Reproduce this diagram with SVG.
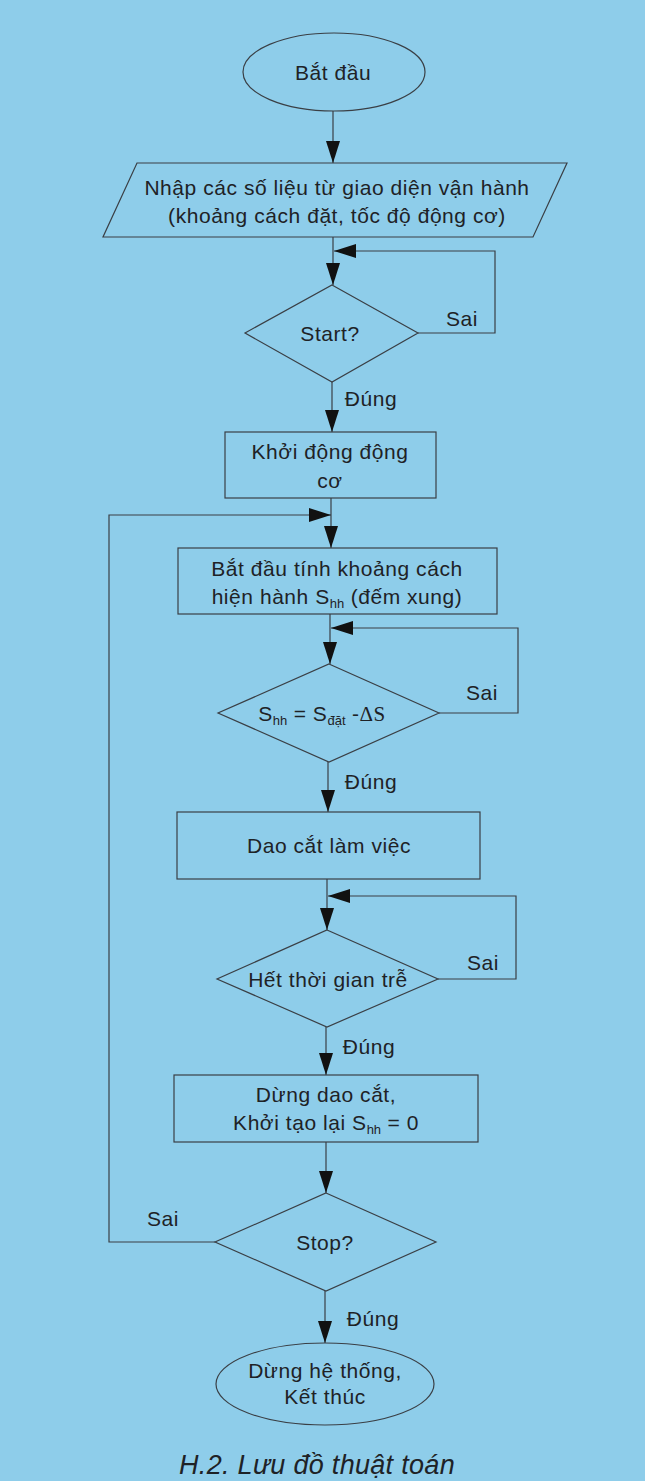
<svg xmlns="http://www.w3.org/2000/svg" width="645" height="1481" viewBox="0 0 645 1481">
<defs>
<marker id="ah" markerUnits="userSpaceOnUse" markerWidth="24" markerHeight="16" refX="22" refY="7" orient="auto">
<path d="M0,0 L22,7 L0,14 Z" fill="#111"/>
</marker>
<style>
.sh{fill:none;stroke:#3a3f45;stroke-width:1.2}
.c{fill:none;stroke:#3a3f45;stroke-width:1.2}
text{font-family:"Liberation Sans",Arial,sans-serif;font-size:21px;fill:#1e2226;letter-spacing:0.55px}
.m{text-anchor:middle}
.sub{font-size:13px;letter-spacing:0}
</style>
</defs>
<rect width="645" height="1481" fill="#8ecdea"/>

<g id="connectors">
<path class="c" d="M333,111 V163" marker-end="url(#ah)"/>
<path class="c" d="M333,237 V285" marker-end="url(#ah)"/>
<path class="c" d="M418,333 H495 V251 H334" marker-end="url(#ah)"/>
<path class="c" d="M332,382 V432" marker-end="url(#ah)"/>
<path class="c" d="M331,498 V548" marker-end="url(#ah)"/>
<path class="c" d="M215,1242 H109 V515 H331" marker-end="url(#ah)"/>
<path class="c" d="M330,614 V664" marker-end="url(#ah)"/>
<path class="c" d="M439,713 H518 V628 H331" marker-end="url(#ah)"/>
<path class="c" d="M328,762 V812" marker-end="url(#ah)"/>
<path class="c" d="M327,879 V930" marker-end="url(#ah)"/>
<path class="c" d="M438,979 H516 V896 H328" marker-end="url(#ah)"/>
<path class="c" d="M326,1027 V1075" marker-end="url(#ah)"/>
<path class="c" d="M326,1142 V1193" marker-end="url(#ah)"/>
<path class="c" d="M325,1291 V1343" marker-end="url(#ah)"/>
<text x="462" y="326" class="m">Sai</text>
<text x="371" y="406" class="m">Đúng</text>
<text x="482" y="700" class="m">Sai</text>
<text x="371" y="789" class="m">Đúng</text>
<text x="483" y="970" class="m">Sai</text>
<text x="369" y="1054" class="m">Đúng</text>
<text x="163" y="1226" class="m">Sai</text>
<text x="373" y="1326" class="m">Đúng</text>
</g>

<g id="start">
<ellipse class="sh" cx="334" cy="72" rx="91" ry="39"/>
<text x="333" y="80" class="m">Bắt đầu</text>
</g>

<g id="input">
<polygon class="sh" points="137,163 567,163 533,237 103,237"/>
<text x="337" y="195" class="m">Nhập các số liệu từ giao diện vận hành</text>
<text x="337" y="223" class="m">(khoảng cách đặt, tốc độ động cơ)</text>
</g>

<g id="d-start">
<polygon class="sh" points="332,285 418,333 332,382 245,333"/>
<text x="330" y="341" class="m">Start?</text>
</g>

<g id="motor">
<rect class="sh" x="225" y="432" width="211" height="66"/>
<text x="330" y="459" class="m">Khởi động động</text>
<text x="330" y="488" class="m">cơ</text>
</g>

<g id="count">
<rect class="sh" x="178" y="548" width="319" height="66"/>
<text x="337" y="576" class="m">Bắt đầu tính khoảng cách</text>
<text x="337" y="604" class="m">hiện hành S<tspan class="sub" dy="4">hh</tspan><tspan dy="-4"> (đếm xung)</tspan></text>
</g>

<g id="d-dist">
<polygon class="sh" points="329,664 439,713 329,762 218,713"/>
<text x="322" y="721" class="m">S<tspan class="sub" dy="4">hh</tspan><tspan dy="-4"> = S</tspan><tspan class="sub" dy="4">đặt</tspan><tspan dy="-4"> -</tspan><tspan style="font-family:'Liberation Serif',serif">ΔS</tspan></text>
</g>

<g id="cut">
<rect class="sh" x="177" y="812" width="303" height="67"/>
<text x="329" y="853" class="m">Dao cắt làm việc</text>
</g>

<g id="d-delay">
<polygon class="sh" points="327,930 438,979 327,1027 217,979"/>
<text x="328" y="987" class="m">Hết thời gian trễ</text>
</g>

<g id="stopcut">
<rect class="sh" x="174" y="1075" width="304" height="67"/>
<text x="326" y="1102" class="m">Dừng dao cắt,</text>
<text x="326" y="1130" class="m">Khởi tạo lại S<tspan class="sub" dy="4">hh</tspan><tspan dy="-4"> = 0</tspan></text>
</g>

<g id="d-stop">
<polygon class="sh" points="326,1193 436,1242 326,1291 215,1242"/>
<text x="325" y="1250" class="m">Stop?</text>
</g>

<g id="end">
<ellipse class="sh" cx="325" cy="1384" rx="109" ry="41"/>
<text x="325" y="1378" class="m">Dừng hệ thống,</text>
<text x="325" y="1404" class="m">Kết thúc</text>
</g>

<text x="317" y="1474" class="m" style="font-style:italic;font-size:27px;letter-spacing:0.3px">H.2. Lưu đồ thuật toán</text>
</svg>
